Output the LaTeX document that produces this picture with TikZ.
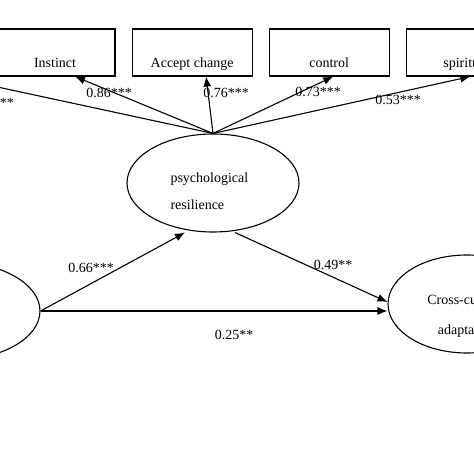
\documentclass[tikz,border=0pt]{standalone}
\usepackage{fontspec}
\setmainfont{Liberation Serif}
\usetikzlibrary{positioning,shapes.geometric,arrows.meta}
\tikzstyle{factor} = [draw=black,
					  line width=1.1pt,
					  minimum width=120pt,
					  inner xsep=0pt,
					  inner ysep=3pt,
					  text height=36pt,
					  text depth=5pt,
					  align=center]
\tikzstyle{latent} = [draw=black,
					  line width=1.1pt,
					  ellipse,
					  minimum width=172pt,
					  minimum height=98pt,
					  inner sep=0pt]
\tikzstyle{arr} = [-{Latex[length=10pt,width=8pt]},
				   line width=1.1pt]
\tikzstyle{coef} = [inner sep=1pt]

\begin{document}
\begin{tikzpicture}[x=1pt, y=1pt, node distance=16pt,
		every node/.style={font=\fontsize{14pt}{16pt}\selectfont}]
	\useasboundingbox (0,0) rectangle (474,474);
	\clip (0,0) rectangle (474,474);

	%%%%%%%%%%%
	% FACTORS %
	%%%%%%%%%%%
	\node[factor] (instinct) at (55,421.5) {Instinct};
	\node[factor, right=of instinct] (accept) {Accept change};
	\node[factor, right=of accept] (control) {control};
	\node[factor, right=of control] (spirit) {spiritual};
	\coordinate (hidden) at (-49,397);

	%%%%%%%%%%%
	% LATENTS %
	%%%%%%%%%%%
	\node[latent] (psy) at (213,291) {};
	\node[anchor=base west, align=left, font=\fontsize{14pt}{27pt}\selectfont] (psytext) at ([xshift=-46pt,yshift=-27pt]psy.center) {psychological\\resilience};
	\node[latent] (pred) at (-46,163) {};
	\node[latent, minimum width=158pt] (cca) at (467,170) {};
	\node[anchor=base, align=center, font=\fontsize{14pt}{30pt}\selectfont] (ccatext) at ([yshift=-31pt]cca.center) {Cross-cultural\\adaptation};

	%%%%%%%%%
	% PATHS %
	%%%%%%%%%
	\draw[arr] (psy.north) -- (hidden);
	\draw[arr] (psy.north) -- ([xshift=20pt]instinct.south);
	\draw[arr] (psy.north) -- ([xshift=14pt]accept.south);
	\draw[arr] (psy.north) -- ([xshift=4pt]control.south);
	\draw[arr] (psy.north) -- ([xshift=4pt]spirit.south);
	\draw[arr] (pred.east) -- ([xshift=-28pt]psy.south);
	\draw[arr] ([xshift=22pt]psy.south) -- ([yshift=2pt]cca.west);
	\draw[arr] (pred.east) -- (pred.east -| cca.west);

	%%%%%%%%%%%%%%%%
	% COEFFICIENTS %
	%%%%%%%%%%%%%%%%
	\node[coef, anchor=east] (c0) at (15,371) {***};
	\node[coef] (c1) at (109,381) {0.86***};
	\node[coef] (c2) at (226,381) {0.76***};
	\node[coef] (c3) at (318,382) {0.73***};
	\node[coef] (c4) at (398,374) {0.53***};
	\node[coef] (c5) at (91,206) {0.66***};
	\node[coef] (c6) at (333,209) {0.49**};
	\node[coef] (c7) at (234,139) {0.25**};

\end{tikzpicture}
\end{document}
